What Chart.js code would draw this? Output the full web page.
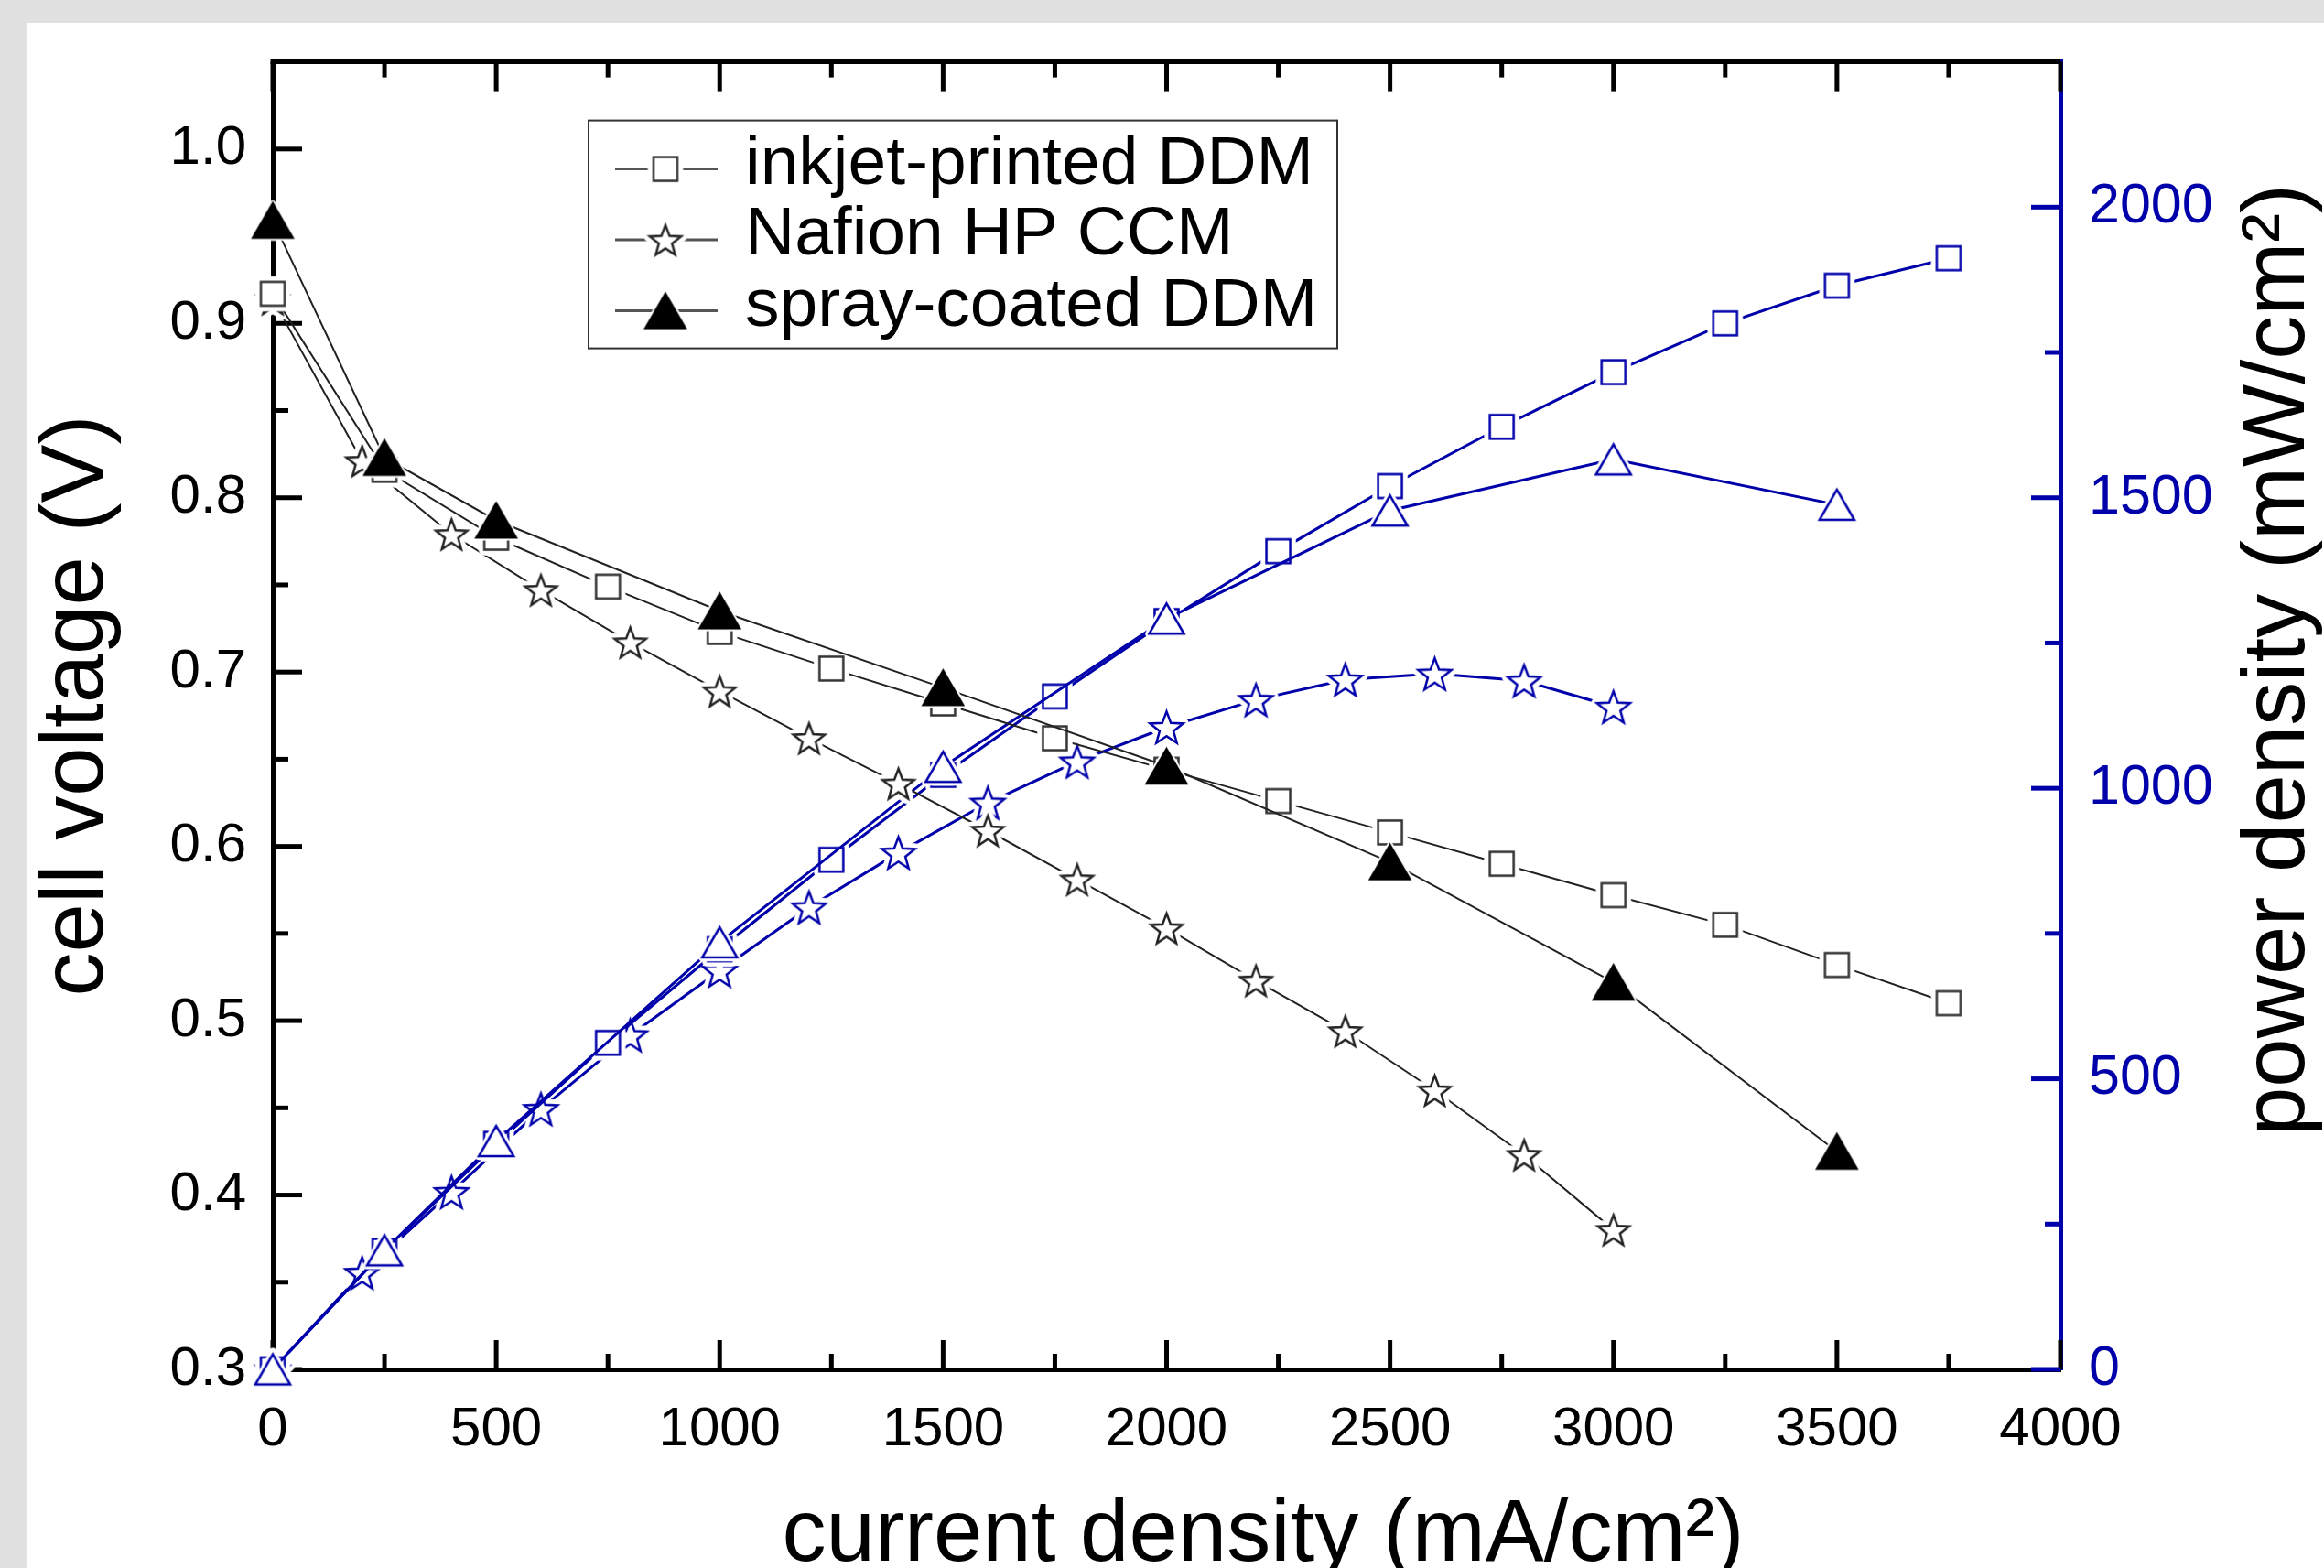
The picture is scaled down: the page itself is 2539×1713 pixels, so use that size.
<!DOCTYPE html>
<html>
<head>
<meta charset="utf-8">
<title>cell voltage and power density</title>
<script src="https://cdn.jsdelivr.net/npm/chart.js@4.4.1/dist/chart.umd.min.js"></script>
<style>
  html, body { margin: 0; padding: 0; background: #e1e1e1; overflow: hidden; }
  #sheet { position: absolute; left: 29px; top: 25px; right: 0; bottom: 0; background: #fff; }
  #chart { position: absolute; left: 0; top: 0; }
</style>
</head>
<body>
<div id="sheet"></div>
<canvas id="chart" width="2539" height="1713"></canvas>
<script>
const FONT = '"Liberation Sans", Arial, Helvetica, sans-serif';
const BLUE = '#0000aa';

// current density (mA/cm²)
const inkjetX = [0, 250, 500, 750, 1000, 1250, 1500, 1750, 2000, 2250, 2500, 2750, 3000, 3250, 3500, 3750];
const nafionX = [0, 200, 400, 600, 800, 1000, 1200, 1400, 1600, 1800, 2000, 2200, 2400, 2600, 2800, 3000];
const sprayX  = [0, 250, 500, 1000, 1500, 2000, 2500, 3000, 3500];

// cell voltage (V)
const inkjetV = [0.917, 0.816, 0.777, 0.749, 0.723, 0.702, 0.682, 0.662, 0.644, 0.626, 0.608, 0.590, 0.572, 0.555, 0.532, 0.510];
const nafionV = [0.914, 0.821, 0.779, 0.747, 0.717, 0.689, 0.662, 0.636, 0.609, 0.581, 0.553, 0.523, 0.494, 0.460, 0.423, 0.380];
const sprayV  = [0.959, 0.823, 0.787, 0.735, 0.691, 0.646, 0.591, 0.522, 0.425];

// power density (mW/cm²)
const inkjetP = [0, 204, 388, 562, 723, 877, 1023, 1158, 1288, 1408, 1520, 1622, 1716, 1800, 1865, 1912];
const nafionP = [0, 166, 305, 448, 575, 686, 795, 889, 975, 1046, 1105, 1152, 1187, 1197, 1185, 1140];
const sprayP  = [0, 205, 393, 735, 1037, 1292, 1478, 1566, 1488];

const seriesLabels = ['inkjet-printed DDM', 'Nafion HP CCM', 'spray-coated DDM'];

// axis ticks
const xTicks  = [0, 500, 1000, 1500, 2000, 2500, 3000, 3500, 4000];
const xMinor  = [250, 750, 1250, 1750, 2250, 2750, 3250, 3750];
const yTicks  = [0.3, 0.4, 0.5, 0.6, 0.7, 0.8, 0.9, 1.0];
const yMinor  = [0.35, 0.45, 0.55, 0.65, 0.75, 0.85, 0.95];
const y2Ticks = [0, 500, 1000, 1500, 2000];
const y2Minor = [250, 750, 1250, 1750];

// --- markers: small canvases with a white halo so the line stops short of them ---
function makeMarker(shape, stroke, fill, r, halo) {
  const lw = 2.5;
  const s = Math.ceil(2 * (r + halo + lw)) + 2;
  const c = document.createElement('canvas');
  c.width = c.height = s;
  const g = c.getContext('2d');
  g.translate(s / 2, s / 2);
  const path = () => {
    g.beginPath();
    if (shape === 'square') {
      g.rect(-r, -r, 2 * r, 2 * r);
    } else if (shape === 'triangle') {
      const dy = r / 4;
      for (let k = 0; k < 3; k++) {
        const a = k * 2 * Math.PI / 3;
        g.lineTo(Math.sin(a) * r, -Math.cos(a) * r + dy);
      }
      g.closePath();
    } else {
      const dy = 0.0955 * r;
      for (let k = 0; k < 10; k++) {
        const a = k * Math.PI / 5;
        const rr = k % 2 ? r * 0.42 : r;
        g.lineTo(Math.sin(a) * rr, -Math.cos(a) * rr + dy);
      }
      g.closePath();
    }
  };
  if (halo > 0) {
    path();
    g.strokeStyle = '#fff'; g.lineWidth = lw + 2 * halo; g.lineJoin = 'round'; g.stroke();
  }
  path();
  g.fillStyle = fill; g.fill();
  g.strokeStyle = stroke; g.lineWidth = lw; g.lineJoin = 'miter'; g.stroke();
  return c;
}

const mSquare   = makeMarker('square', '#333', '#fff', 13, 5);
const mStar     = makeMarker('star', '#222', '#fff', 18, 5);
const mTriFill  = makeMarker('triangle', '#000', '#000', 25, 2);
const mSquareB  = makeMarker('square', BLUE, '#fff', 13, 5);
const mStarB    = makeMarker('star', BLUE, '#fff', 19, 5);
const mTriOpenB = makeMarker('triangle', BLUE, '#fff', 22, 3);

// lower order is drawn on top
function series(label, xs, ys, axis, color, width, marker, order) {
  return {
    label,
    data: xs.map((x, i) => ({ x, y: ys[i] })),
    yAxisID: axis,
    borderColor: color,
    borderWidth: width,
    showLine: true,
    tension: 0,
    fill: false,
    pointStyle: marker,
    pointRadius: 14,
    pointHoverRadius: 14,
    clip: false,
    order
  };
}

const datasets = [
  series(seriesLabels[0], inkjetX, inkjetV, 'y', '#222', 2, mSquare, 1),
  series(seriesLabels[1], nafionX, nafionV, 'y', '#222', 2, mStar, 2),
  series(seriesLabels[2], sprayX, sprayV, 'y', '#222', 2, mTriFill, 0),
  series(seriesLabels[0] + ' power', inkjetX, inkjetP, 'y2', BLUE, 3, mSquareB, 4),
  series(seriesLabels[1] + ' power', nafionX, nafionP, 'y2', BLUE, 3, mStarB, 5),
  series(seriesLabels[2] + ' power', sprayX, sprayP, 'y2', BLUE, 3, mTriOpenB, 3)
];

// --- inward tick marks on all four sides, plus the top frame line ---
const frame = {
  id: 'frame',
  beforeDatasetsDraw(chart) {
    const { ctx, chartArea: a, scales } = chart;
    const big = 32, small = 17;
    ctx.save();
    ctx.lineWidth = 5;
    ctx.lineCap = 'butt';
    const seg = (x1, y1, x2, y2) => { ctx.beginPath(); ctx.moveTo(x1, y1); ctx.lineTo(x2, y2); ctx.stroke(); };

    ctx.strokeStyle = '#000';
    seg(a.left - 2.5, a.top, a.right, a.top);
    const xt = (v, len) => {
      const px = scales.x.getPixelForValue(v);
      seg(px, a.bottom, px, a.bottom - len);
      seg(px, a.top, px, a.top + len);
    };
    xTicks.forEach(v => xt(v, big));
    xMinor.forEach(v => xt(v, small));
    const yt = (v, len) => {
      const py = scales.y.getPixelForValue(v);
      seg(a.left, py, a.left + len, py);
    };
    yTicks.forEach(v => yt(v, big));
    yMinor.forEach(v => yt(v, small));

    ctx.strokeStyle = BLUE;
    const y2t = (v, len) => {
      const py = scales.y2.getPixelForValue(v);
      seg(a.right, py, a.right - len, py);
    };
    y2Ticks.forEach(v => y2t(v, big));
    y2Minor.forEach(v => y2t(v, small));
    ctx.restore();
  }
};

// --- axis titles (right one reads bottom-to-top like the left one) ---
const titles = {
  id: 'titles',
  afterDraw(chart) {
    const { ctx } = chart;
    ctx.save();
    ctx.fillStyle = '#000';
    ctx.font = '96px ' + FONT;
    ctx.textAlign = 'center';
    ctx.textBaseline = 'alphabetic';
    ctx.fillText('current density (mA/cm²)', 1380, 1705);
    ctx.translate(112, 771);
    ctx.rotate(-Math.PI / 2);
    ctx.fillText('cell voltage (V)', 0, 0);
    ctx.restore();
    ctx.save();
    ctx.fillStyle = '#000';
    ctx.font = '96px ' + FONT;
    ctx.textAlign = 'center';
    ctx.translate(2517, 721);
    ctx.rotate(-Math.PI / 2);
    ctx.fillText('power density (mW/cm²)', 0, 0);
    ctx.restore();
  }
};

// --- boxed legend inside the plot ---
const legendBox = {
  id: 'legendBox',
  afterDraw(chart) {
    const { ctx, chartArea: a } = chart;
    const left = a.left + 345, top = a.top + 64, w = 818, h = 249;
    ctx.save();
    ctx.fillStyle = '#fff';
    ctx.fillRect(left, top, w, h);
    ctx.lineWidth = 2;
    ctx.strokeStyle = '#333';
    ctx.strokeRect(left, top, w, h);
    ctx.font = '75px ' + FONT;
    ctx.textBaseline = 'alphabetic';
    chart.data.datasets.slice(0, 3).forEach((ds, i) => {
      const y = top + 53 + i * 77.5;
      ctx.strokeStyle = '#555';
      ctx.lineWidth = 3;
      ctx.beginPath(); ctx.moveTo(left + 29, y); ctx.lineTo(left + 141, y); ctx.stroke();
      const m = ds.pointStyle;
      ctx.drawImage(m, left + 84 - m.width / 2, y - m.height / 2);
      ctx.fillStyle = '#000';
      ctx.fillText(ds.label, left + 171, y + 16);
    });
    ctx.restore();
  }
};

Chart.defaults.font.family = FONT;

new Chart(document.getElementById('chart'), {
  type: 'scatter',
  data: { datasets },
  options: {
    responsive: false,
    animation: false,
    devicePixelRatio: 1,
    events: [],
    layout: { padding: { top: 65, left: 0, right: 0, bottom: 0 } },
    plugins: { legend: { display: false }, tooltip: { enabled: false } },
    scales: {
      x: {
        type: 'linear', position: 'bottom', min: 0, max: 4000,
        afterBuildTicks: s => { s.ticks = xTicks.map(v => ({ value: v })); },
        afterFit: s => { s.height = 217; },
        grid: { display: false, drawTicks: false },
        border: { display: true, color: '#000', width: 5 },
        ticks: { color: '#000', font: { size: 60 }, padding: 30, maxRotation: 0, callback: v => String(v) }
      },
      y: {
        type: 'linear', position: 'left', min: 0.3, max: 1.05,
        afterBuildTicks: s => { s.ticks = yTicks.map(v => ({ value: v })); },
        afterFit: s => { s.width = 298; },
        grid: { display: false, drawTicks: false },
        border: { display: true, color: '#000', width: 5 },
        ticks: { color: '#000', font: { size: 60 }, padding: 29, callback: v => Number(v).toFixed(1) }
      },
      y2: {
        type: 'linear', position: 'right', min: 0, max: 2250,
        afterBuildTicks: s => { s.ticks = y2Ticks.map(v => ({ value: v })); },
        afterFit: s => { s.width = 288; },
        grid: { display: false, drawTicks: false },
        border: { display: true, color: BLUE, width: 5 },
        ticks: { color: BLUE, font: { size: 61 }, padding: 31, callback: v => String(v) }
      }
    }
  },
  plugins: [frame, legendBox, titles]
});
</script>
</body>
</html>
